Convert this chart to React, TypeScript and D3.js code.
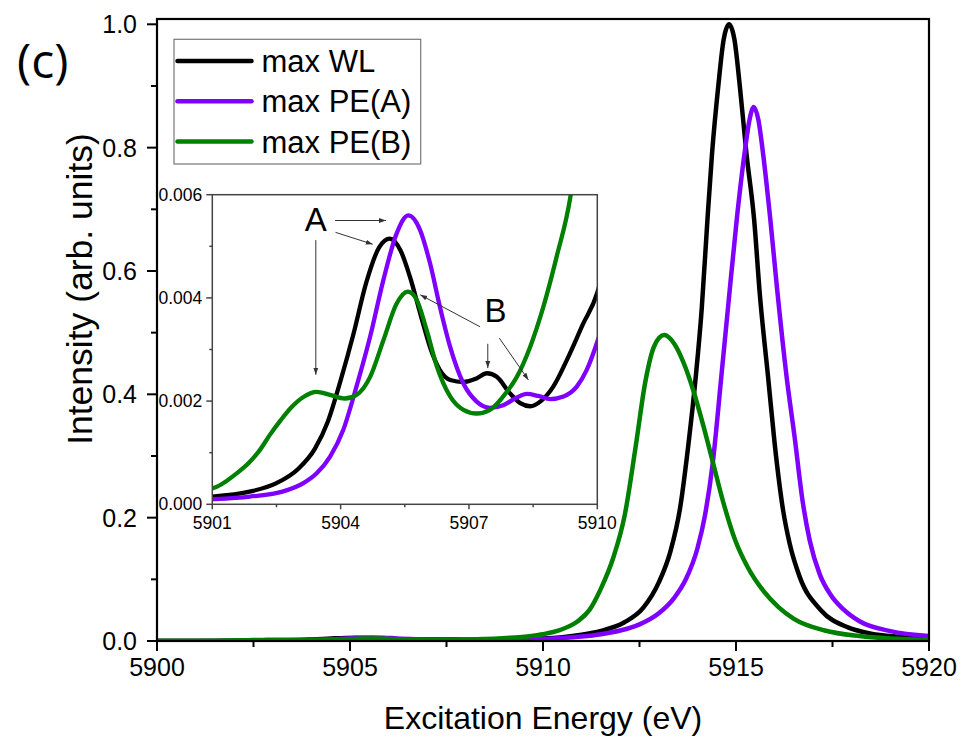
import React from "react";
import * as d3 from "d3";

// ---------- data ----------
const blackX = [5900.0, 5901.0, 5901.9, 5902.5, 5903.0, 5903.4, 5903.7, 5904.0, 5904.3, 5904.6, 5904.9, 5905.15, 5905.4, 5905.62, 5905.86, 5906.1, 5906.32, 5906.56, 5906.87, 5907.18, 5907.42, 5907.65, 5907.96, 5908.2, 5908.43, 5908.68, 5908.97, 5909.29, 5909.67, 5910.0, 5910.5, 5911.0, 5911.5, 5912.1, 5912.6, 5913.0, 5913.3, 5913.55, 5913.76, 5913.96, 5914.11, 5914.26, 5914.38, 5914.54, 5914.68, 5914.82, 5914.96, 5915.1, 5915.27, 5915.47, 5915.62, 5915.83, 5916.0, 5916.22, 5916.39, 5916.65, 5917.2, 5917.9, 5918.5, 5919.2, 5920.0];
const blackY = [0.00012, 0.00015, 0.00025, 0.00041, 0.00068, 0.00108, 0.0016, 0.0024, 0.0033, 0.0043, 0.00498, 0.00515, 0.00492, 0.00441, 0.0037, 0.00302, 0.0026, 0.00241, 0.00237, 0.00244, 0.00254, 0.00247, 0.00215, 0.00196, 0.0019, 0.002, 0.00228, 0.0028, 0.0035, 0.0041, 0.0062, 0.0102, 0.0165, 0.03, 0.054, 0.095, 0.145, 0.215, 0.315, 0.43, 0.537, 0.683, 0.791, 0.899, 0.975, 1.0, 0.975, 0.899, 0.791, 0.683, 0.56, 0.429, 0.321, 0.212, 0.158, 0.104, 0.05, 0.022, 0.012, 0.007, 0.004];

const purpleX = [5900.0, 5901.0, 5901.88, 5902.66, 5903.13, 5903.44, 5903.75, 5904.06, 5904.37, 5904.69, 5905.0, 5905.31, 5905.58, 5905.86, 5906.09, 5906.32, 5906.56, 5906.87, 5907.18, 5907.49, 5907.8, 5908.12, 5908.35, 5908.62, 5908.9, 5909.21, 5909.52, 5909.75, 5910.0, 5910.5, 5911.0, 5911.5, 5912.0, 5912.5, 5913.0, 5913.4, 5913.7, 5914.0, 5914.2, 5914.4, 5914.62, 5914.8, 5915.03, 5915.23, 5915.35, 5915.46, 5915.58, 5915.7, 5915.89, 5916.06, 5916.31, 5916.52, 5916.73, 5916.91, 5917.17, 5917.45, 5917.77, 5918.2, 5919.0, 5920.0];
const purpleY = [0.00008, 0.0001, 0.00015, 0.00025, 0.00041, 0.0006, 0.00092, 0.00144, 0.00228, 0.00325, 0.00435, 0.00525, 0.0056, 0.00531, 0.00467, 0.00383, 0.00305, 0.00234, 0.00199, 0.00187, 0.00192, 0.00207, 0.00214, 0.0021, 0.00204, 0.00209, 0.00228, 0.0026, 0.00315, 0.0047, 0.0072, 0.011, 0.017, 0.027, 0.045, 0.07, 0.1, 0.15, 0.205, 0.29, 0.429, 0.545, 0.69, 0.795, 0.845, 0.866, 0.845, 0.791, 0.683, 0.574, 0.429, 0.33, 0.225, 0.163, 0.108, 0.075, 0.052, 0.032, 0.016, 0.008];

const greenX = [5900.0, 5901.0, 5901.57, 5901.85, 5902.11, 5902.35, 5902.6, 5902.85, 5903.13, 5903.44, 5903.75, 5904.1, 5904.37, 5904.69, 5905.0, 5905.31, 5905.57, 5905.78, 5906.01, 5906.25, 5906.56, 5906.87, 5907.18, 5907.49, 5907.8, 5908.12, 5908.43, 5908.74, 5909.05, 5909.38, 5909.7, 5910.0, 5910.45, 5910.9, 5911.2, 5911.5, 5911.82, 5912.12, 5912.4, 5912.65, 5912.88, 5913.14, 5913.4, 5913.65, 5913.9, 5914.15, 5914.4, 5914.67, 5914.97, 5915.3, 5915.7, 5916.1, 5916.5, 5917.3, 5918.2, 5919.0, 5920.0];
const greenY = [0.00024, 0.00031, 0.0006, 0.0008, 0.00105, 0.00135, 0.00163, 0.00188, 0.00208, 0.00218, 0.00212, 0.00205, 0.00212, 0.00247, 0.00318, 0.00389, 0.00412, 0.00396, 0.00338, 0.00267, 0.00209, 0.00183, 0.00176, 0.00183, 0.00209, 0.00247, 0.00305, 0.00383, 0.0048, 0.006, 0.0082, 0.011, 0.018, 0.032, 0.05, 0.085, 0.135, 0.205, 0.315, 0.42, 0.478, 0.496, 0.482, 0.45, 0.405, 0.35, 0.29, 0.225, 0.165, 0.12, 0.082, 0.055, 0.036, 0.017, 0.008, 0.004, 0.002];

const seriesNames = ["max WL", "max PE(A)", "max PE(B)"];
const seriesColors = ["#000000", "#8000ff", "#008000"];

const mainXTicks = [5900, 5905, 5910, 5915, 5920];
const mainXMinor = [5902.5, 5907.5, 5912.5, 5917.5];
const mainYTicks = [0, 0.2, 0.4, 0.6, 0.8, 1.0];
const mainYMinor = [0.1, 0.3, 0.5, 0.7, 0.9];

const insetXTicks = [5901, 5904, 5907, 5910];
const insetXMinor = [5902.5, 5905.5, 5908.5];
const insetYTicks = [0, 0.002, 0.004, 0.006];
const insetYMinor = [0.001, 0.003, 0.005];

// annotation labels and arrows in inset data coordinates
const annLabels = [
  { t: "A", x: 5903.42, y: 0.00552 },
  { t: "B", x: 5907.62, y: 0.00377 },
];
const annArrows = [
  [5903.87, 0.0055, 5905.06, 0.0055],
  [5903.88, 0.00527, 5904.75, 0.00504],
  [5903.42, 0.00512, 5903.42, 0.00251],
  [5907.26, 0.00344, 5905.86, 0.00406],
  [5907.44, 0.00311, 5907.44, 0.00264],
  [5907.71, 0.00322, 5908.39, 0.00241],
];

const FONT = "'Liberation Sans', Arial, sans-serif";

export default function App() {
  const W = 967, H = 741;
  const x = d3.scaleLinear().domain([5900, 5920]).range([157, 929]);
  const y = d3.scaleLinear().domain([0, 1]).range([641, 24.3]);
  const yTop = 19;

  const ix = d3.scaleLinear().domain([5901, 5910]).range([212.3, 597.3]);
  const iy = d3.scaleLinear().domain([0, 0.006]).range([504.3, 194.7]);

  const series = [
    { xs: blackX, ys: blackY },
    { xs: purpleX, ys: purpleY },
    { xs: greenX, ys: greenY },
  ];

  const mainLine = d3.line<number>().curve(d3.curveMonotoneX);
  const pathMain = (s: any) =>
    mainLine(s.xs.map((v: number, i: number) => [x(v), y(s.ys[i])]) as any) as string;
  const pathInset = (s: any) =>
    mainLine(s.xs.map((v: number, i: number) => [ix(v), iy(s.ys[i])]) as any) as string;

  const fmtInset = d3.format(".3f");
  const fmtMain = d3.format(".1f");

  const x0 = x.range()[0], x1 = x.range()[1];
  const y0 = 641;
  const ix0 = ix.range()[0], ix1 = ix.range()[1];
  const iy0 = iy.range()[0], iy1 = iy.range()[1];

  return (
    <svg width={W} height={H} style={{ position: "absolute", left: 0, top: 0, background: "#fff" }}>
      <defs>
        <clipPath id="mainClip">
          <rect x={x0} y={yTop} width={x1 - x0} height={y0 - yTop} />
        </clipPath>
        <clipPath id="insetClip">
          <rect x={ix0} y={iy1} width={ix1 - ix0} height={iy0 - iy1} />
        </clipPath>
        <marker id="arr" viewBox="0 0 10 10" refX="10" refY="5" markerWidth="7" markerHeight="7" orient="auto" markerUnits="userSpaceOnUse">
          <path d="M0,1.5 L10,5 L0,8.5 Z" fill="#333" />
        </marker>
      </defs>

      {/* main curves */}
      <g clipPath="url(#mainClip)">
        {series.map((s, i) => (
          <path key={i} d={pathMain(s)} fill="none" stroke={seriesColors[i]} strokeWidth={4.5} strokeLinejoin="round" />
        ))}
      </g>

      {/* main frame */}
      <rect x={x0} y={yTop} width={x1 - x0} height={y0 - yTop} fill="none" stroke="#000" strokeWidth={2.2} />

      {/* main x ticks */}
      {mainXTicks.map((t) => (
        <g key={"mx" + t}>
          <line x1={x(t)} x2={x(t)} y1={y0} y2={y0 + 10} stroke="#000" strokeWidth={2} />
          <text x={x(t)} y={y0 + 35} textAnchor="middle" fontFamily={FONT} fontSize={25}>{t}</text>
        </g>
      ))}
      {mainXMinor.map((t) => (
        <line key={"mxm" + t} x1={x(t)} x2={x(t)} y1={y0} y2={y0 + 6} stroke="#000" strokeWidth={2} />
      ))}
      {/* main y ticks */}
      {mainYTicks.map((t) => (
        <g key={"my" + t}>
          <line x1={x0 - 10} x2={x0} y1={y(t)} y2={y(t)} stroke="#000" strokeWidth={2} />
          <text x={x0 - 20} y={y(t) + 9} textAnchor="end" fontFamily={FONT} fontSize={25}>{fmtMain(t)}</text>
        </g>
      ))}
      {mainYMinor.map((t) => (
        <line key={"mym" + t} x1={x0 - 6} x2={x0} y1={y(t)} y2={y(t)} stroke="#000" strokeWidth={2} />
      ))}

      {/* axis titles */}
      <text x={(x0 + x1) / 2} y={729} textAnchor="middle" fontFamily={FONT} fontSize={32}>Excitation Energy (eV)</text>
      <text transform={`translate(92, 289) rotate(-90)`} textAnchor="middle" fontFamily={FONT} fontSize={35.5}>Intensity (arb. units)</text>

      {/* panel label */}
      <text x={17} y={78} fontFamily="'Open Sans', 'Noto Sans', sans-serif" fontSize={48}>(c)</text>

      {/* legend */}
      <rect x={174} y={39.3} width={246.7} height={124.7} fill="#fff" stroke="#777" strokeWidth={1.2} />
      {seriesNames.map((n, i) => (
        <g key={n}>
          <line x1={177.5} x2={251.5} y1={61 + i * 40.3} y2={61 + i * 40.3} stroke={seriesColors[i]} strokeWidth={4.5} strokeLinecap="round" />
          <text x={261.5} y={61 + i * 40.3 + 11} fontFamily={FONT} fontSize={31}>{n}</text>
        </g>
      ))}

      {/* inset */}
      <rect x={ix0} y={iy1} width={ix1 - ix0} height={iy0 - iy1} fill="#fff" />
      <g clipPath="url(#insetClip)">
        {series.map((s, i) => (
          <path key={i} d={pathInset(s)} fill="none" stroke={seriesColors[i]} strokeWidth={4.3} strokeLinejoin="round" />
        ))}
      </g>
      <rect x={ix0} y={iy1} width={ix1 - ix0} height={iy0 - iy1} fill="none" stroke="#444" strokeWidth={1.5} />
      {insetXTicks.map((t) => (
        <g key={"ix" + t}>
          <line x1={ix(t)} x2={ix(t)} y1={iy0} y2={iy0 + 5} stroke="#444" strokeWidth={1.5} />
          <text x={ix(t)} y={iy0 + 25} textAnchor="middle" fontFamily={FONT} fontSize={17.5}>{t}</text>
        </g>
      ))}
      {insetXMinor.map((t) => (
        <line key={"ixm" + t} x1={ix(t)} x2={ix(t)} y1={iy0} y2={iy0 + 3} stroke="#444" strokeWidth={1.5} />
      ))}
      {insetYTicks.map((t) => (
        <g key={"iy" + t}>
          <line x1={ix0 - 6} x2={ix0} y1={iy(t)} y2={iy(t)} stroke="#444" strokeWidth={1.5} />
          <text x={ix0 - 10} y={iy(t) + 6} textAnchor="end" fontFamily={FONT} fontSize={17.5}>{fmtInset(t)}</text>
        </g>
      ))}
      {insetYMinor.map((t) => (
        <line key={"iym" + t} x1={ix0 - 3} x2={ix0} y1={iy(t)} y2={iy(t)} stroke="#444" strokeWidth={1.5} />
      ))}

      {/* annotations */}
      {annArrows.map((a, i) => (
        <line key={"a" + i} x1={ix(a[0])} y1={iy(a[1])} x2={ix(a[2])} y2={iy(a[3])} stroke="#333" strokeWidth={1} markerEnd="url(#arr)" />
      ))}
      {annLabels.map((l) => (
        <text key={l.t} x={ix(l.x)} y={iy(l.y) + 12} textAnchor="middle" fontFamily={FONT} fontSize={33}>{l.t}</text>
      ))}
    </svg>
  );
}
